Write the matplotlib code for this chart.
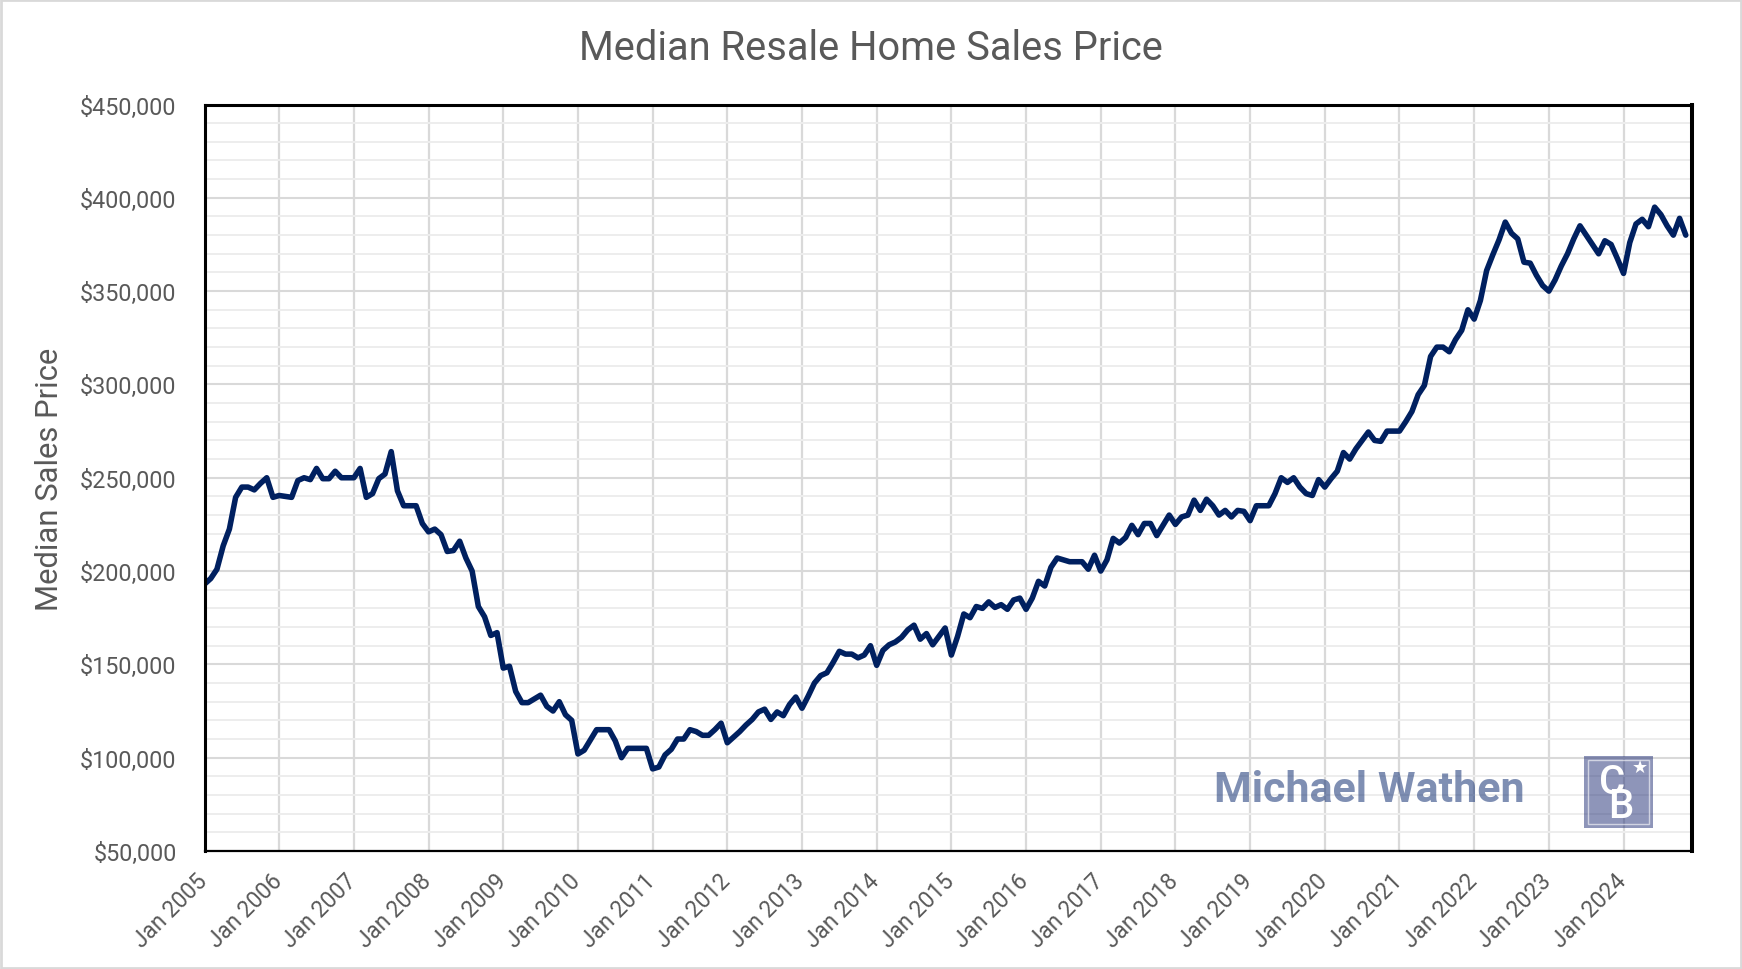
import matplotlib
matplotlib.use("Agg")
import matplotlib.pyplot as plt
import matplotlib.transforms as mtransforms
from matplotlib.patches import Rectangle
from matplotlib.ticker import FixedLocator, MultipleLocator, FuncFormatter
import numpy as np

# ---------------- data (median price, thousands of dollars, monthly) ----------------
years = list(range(2005, 2025))
tick_labels = [f"Jan {y}" for y in years]

p2005 = [193, 196, 201, 213.5, 222.5, 239.5, 245, 245, 243.5, 247, 250, 239.5]
p2006 = [240.5, 240, 239.5, 248.5, 250, 249, 255, 249.5, 249.5, 253.5, 250, 250]
p2007 = [250, 255, 239.5, 241.5, 249.5, 252, 264, 243, 235, 235, 235, 225.5]
p2008 = [221, 222.5, 219.5, 210.5, 211, 216, 207, 200, 181, 175.5, 165.5, 167]
p2009 = [148, 149, 135.5, 129.5, 129.5, 131.5, 133.5, 127.5, 125, 130, 123, 120]
p2010 = [102, 104, 109.5, 115, 115, 115, 109, 100, 105, 105, 105, 105]
p2011 = [94, 95, 101.5, 104.5, 110, 110, 115, 114, 112, 112, 115, 118.5]
p2012 = [108, 111, 114, 117.5, 120.5, 124.5, 126, 120.5, 124.5, 122.5, 128.5, 132.5]
p2013 = [126.5, 133, 140, 144, 145.5, 151, 157, 155.5, 155.5, 153.5, 155, 160]
p2014 = [149.5, 157.5, 160.5, 162, 164.5, 168.5, 171, 163.5, 166.5, 160.5, 165, 169.5]
p2015 = [155, 165, 177, 175, 181, 180, 183.5, 180.5, 182, 179.5, 184.5, 185.5]
p2016 = [179.5, 185.5, 194.5, 192, 202, 207, 206, 205, 205, 205, 201, 208.5]
p2017 = [200, 206, 217.5, 215, 218, 224.5, 219.5, 225.5, 225.5, 219, 224.5, 230]
p2018 = [225, 229, 230, 238, 232.5, 238.5, 235, 230, 232.5, 229, 232.5, 232]
p2019 = [227, 235, 235, 235, 241.5, 250, 247.5, 250, 245, 241.5, 240.5, 249]
p2020 = [245, 249.5, 253.5, 263.5, 260, 265.5, 270, 274.5, 270, 269.5, 275, 275]
p2021 = [275, 280, 285.5, 294.5, 299.5, 315, 320, 320, 317.5, 324, 329, 340]
p2022 = [335, 345, 361, 369.5, 377.5, 387, 381, 378, 365.5, 365, 358.5, 353]
p2023 = [350, 356, 363.5, 370, 378, 385, 380, 375, 370, 377, 375, 367.5]
p2024 = [359.5, 376, 386, 388.5, 384.5, 395, 391, 385, 380, 389, 380]

prices_k = np.array(p2005 + p2006 + p2007 + p2008 + p2009 + p2010 + p2011 + p2012
                    + p2013 + p2014 + p2015 + p2016 + p2017 + p2018 + p2019 + p2020
                    + p2021 + p2022 + p2023 + p2024)
prices = prices_k * 1000
months = np.arange(len(prices))
year_ticks = [12 * i for i in range(len(years))]

# ---------------- figure ----------------
W, H = 1742, 970
fig = plt.figure(figsize=(W / 100, H / 100), dpi=100)
fig.patch.set_facecolor("white")

FONT = ["Roboto", "DejaVu Sans"]
GREY_TXT = "#595959"

left_px, right_px, top_px, bot_px = 204.5, 1692, 105.5, 852
ax = fig.add_axes([left_px / W, 1 - bot_px / H, (right_px - left_px) / W, (bot_px - top_px) / H])

ax.plot(months, prices, color="#002060", lw=4.0, solid_joinstyle="round",
        solid_capstyle="round", zorder=5)

ax.set_xlim(0, 239)
ax.set_ylim(50000, 450000)

ax.yaxis.set_major_locator(MultipleLocator(50000))
ax.yaxis.set_minor_locator(MultipleLocator(10000))
ax.yaxis.set_major_formatter(FuncFormatter(lambda v, p: f"${v:,.0f}"))
ax.xaxis.set_major_locator(FixedLocator(year_ticks))
ax.set_xticklabels(tick_labels)

ax.grid(which="major", axis="y", color="#d9d9d9", lw=1.5, zorder=1)
ax.grid(which="minor", axis="y", color="#ededed", lw=1.4, zorder=0)
ax.grid(which="major", axis="x", color="#d9d9d9", lw=1.6, zorder=1)
ax.set_axisbelow(True)

ax.tick_params(axis="both", which="both", length=0)
ax.tick_params(axis="y", pad=20, labelsize=16.8, labelcolor=GREY_TXT)
ax.tick_params(axis="x", pad=13, labelsize=16.3, labelcolor=GREY_TXT)
for lab in ax.get_yticklabels():
    lab.set_family(FONT)
shift = mtransforms.ScaledTranslation(-9 / 100, 0, fig.dpi_scale_trans)
for lab in ax.get_xticklabels():
    lab.set_family(FONT)
    lab.set_rotation(45)
    lab.set_ha("right")
    lab.set_va("top")
    lab.set_rotation_mode("anchor")
    lab.set_transform(lab.get_transform() + shift)

for side, lw in (("left", 2.2), ("top", 2.2), ("right", 2.9), ("bottom", 1.6)):
    ax.spines[side].set_color("black")
    ax.spines[side].set_linewidth(lw)
    ax.spines[side].set_zorder(6)

# title and axis label
fig.text(0.5, 1 - 48 / H, "Median Resale Home Sales Price", ha="center", va="center",
         fontsize=28.7, color=GREY_TXT, family=FONT)
fig.text(50 / W, 1 - 479 / H, "Median Sales Price", rotation=90, ha="center", va="center",
         fontsize=22.3, color=GREY_TXT, family=FONT)

# watermark text
fig.text(1369 / W, 1 - 791 / H, "Michael Wathen", ha="center", va="center",
         fontsize=31, fontweight="bold", color="#163375", alpha=0.55, family=FONT, zorder=10)

# logo box
lx0, lx1, ly0, ly1 = 1584, 1653, 757, 829
fig.patches.append(Rectangle((lx0 / W, 1 - ly1 / H), (lx1 - lx0) / W, (ly1 - ly0) / H,
                             transform=fig.transFigure, facecolor="#1f2d75", alpha=0.5,
                             edgecolor="none", zorder=10))
fig.patches.append(Rectangle(((lx0 + 4) / W, 1 - (ly1 - 4) / H), (lx1 - lx0 - 8) / W, (ly1 - ly0 - 8) / H,
                             transform=fig.transFigure, facecolor="none", alpha=0.6,
                             edgecolor="white", lw=1.0, zorder=11))
fig.text(1617 / W, 1 - 795 / H, "C\n B", ha="center", va="center", fontsize=29,
         linespacing=0.55, multialignment="left", color="white", fontweight="medium",
         family=FONT, zorder=12)
fig.text(1640 / W, 1 - 768 / H, "\u2605", ha="center", va="center", fontsize=13,
         color="white", family=["DejaVu Sans"], zorder=12)

# outer border
fig.patches.append(Rectangle((0.0008, 0.0012), 0.9984, 0.9976, transform=fig.transFigure,
                             facecolor="none", edgecolor="#d9d9d9", lw=2.0, zorder=20))

fig.savefig("out.png", dpi=100, facecolor="white")
